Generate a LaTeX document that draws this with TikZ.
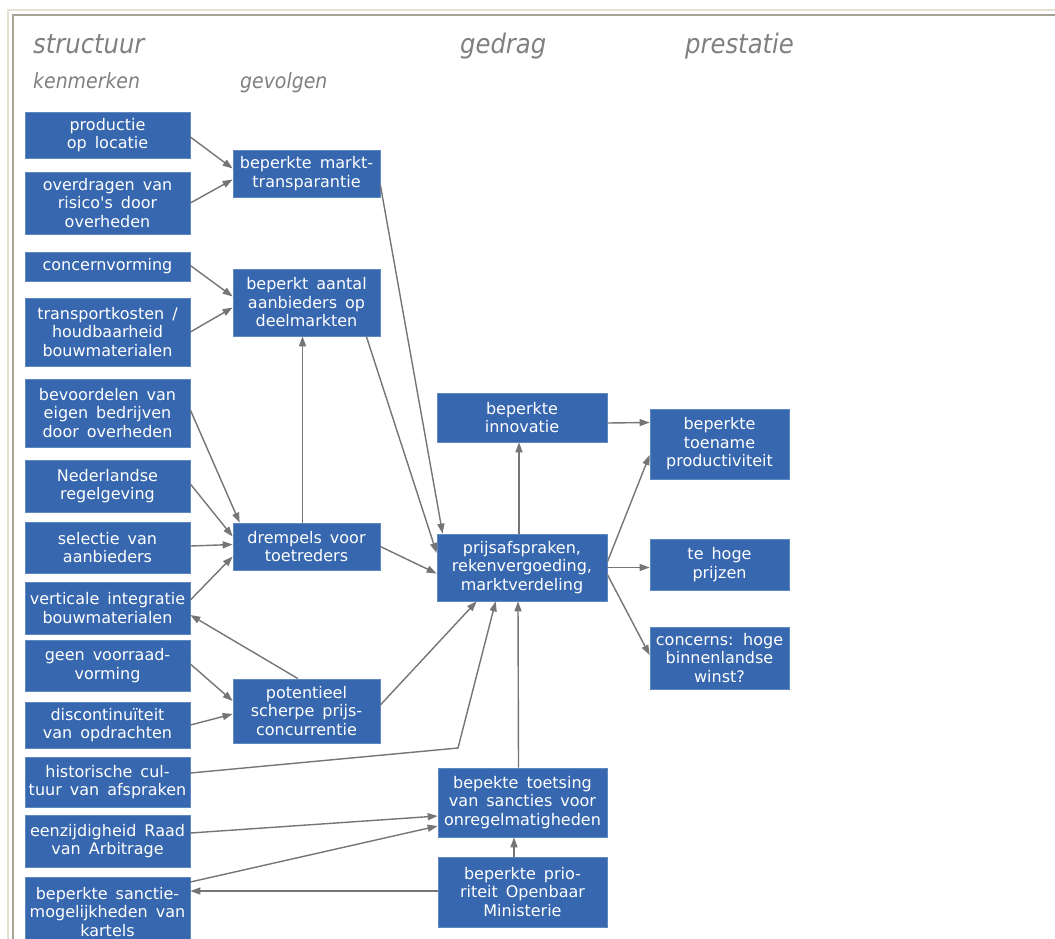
\documentclass[tikz,border=0pt]{standalone}
\usepackage{fontspec}
\setmainfont{DejaVu Sans}
\newfontfamily\boxfont{DejaVu Sans}
\newfontfamily\headfont{DejaVu Sans Condensed}
\usetikzlibrary{arrows.meta}
\definecolor{boxblue}{HTML}{3767AE}
\definecolor{boxedge}{HTML}{5F87C2}
\definecolor{arrgray}{HTML}{757575}
\definecolor{headgray}{HTML}{808080}
\definecolor{frameout}{HTML}{E6E1D2}
\definecolor{framein}{HTML}{A9A393}
\newcommand\boxsetup{\boxfont\fontsize{16}{18.5}\selectfont\spaceskip=0.5em plus 0.1em\relax}
\newcommand\bx[6]{%
  \pgfmathsetmacro\bxw{#4-#2}\pgfmathsetmacro\bxh{#5-#3}%
  \pgfmathsetmacro\bxx{(#2+#4)/2}\pgfmathsetmacro\bxy{(#3+#5)/2}%
  \node[box, minimum width=\bxw pt, minimum height=\bxh pt] (#1) at (\bxx,\bxy) {#6};}
\begin{document}
\begin{tikzpicture}[x=1pt,y=-1pt,
  box/.style={fill=boxblue, draw=boxedge, line width=0.7pt, text=white, align=center, inner sep=0pt,
    font={\boxsetup}},
  arr/.style={draw=arrgray, line width=1.4pt, -{Triangle[length=10pt,width=7pt]}},
  head/.style={anchor=base west, text=headgray, inner sep=0pt, font={\headfont\itshape\fontsize{27}{30}\selectfont}},
  subhead/.style={anchor=base west, text=headgray, inner sep=0pt, font={\headfont\itshape\fontsize{21}{24}\selectfont}}]
\useasboundingbox (0,0) rectangle (1055,938);
\fill[white] (0,0) rectangle (1055,938);
\draw[frameout, line width=2pt] (8,940) -- (8,10) -- (1056,10);
\draw[framein, line width=1.3pt] (13,940) -- (13,15) -- (1056,15);

% headers
\node[head] (hstruct) at (33,53) {structuur};
\node[head] (hgedrag) at (460,53) {gedrag};
\node[head] (hprest) at (685,53) {prestatie};
\node[subhead] (hkenm) at (33,88) {kenmerken};
\node[subhead] (hgevol) at (240,88) {gevolgen};

% column 1
\bx{prod}{25}{112}{190}{158}{productie\\op locatie}
\bx{overd}{25}{172}{190}{234}{overdragen van\\risico's door\\overheden}
\bx{concern}{25}{252}{190}{281}{concernvorming}
\bx{transp}{25}{298}{190}{366}{transportkosten /\\houdbaarheid\\bouwmaterialen}
\bx{bevoord}{25}{379}{190}{447}{bevoordelen van\\eigen bedrijven\\door overheden}
\bx{neder}{25}{460}{190}{512}{Nederlandse\\regelgeving}
\bx{select}{25}{522}{190}{573}{selectie van\\aanbieders}
\bx{vert}{25}{582}{190}{634}{verticale integratie\\bouwmaterialen}
\bx{geen}{25}{640}{190}{691}{geen voorraad-\\vorming}
\bx{disc}{25}{702}{190}{748}{discontinuïteit\\van opdrachten}
\bx{hist}{25}{757}{190}{807}{historische cul-\\tuur van afspraken}
\bx{eenz}{25}{815}{190}{867}{eenzijdigheid Raad\\van Arbitrage}
\bx{sanc}{25}{877}{190}{947}{beperkte sanctie-\\mogelijkheden van\\kartels}

% column 2
\bx{markt}{233}{150}{380}{197}{beperkte markt-\\transparantie}
\bx{aantal}{233}{269}{380}{336}{beperkt aantal\\aanbieders op\\deelmarkten}
\bx{drempel}{233}{523}{380}{570}{drempels voor\\toetreders}
\bx{pot}{233}{679}{380}{743}{potentieel\\scherpe prijs-\\concurrentie}

% column 3
\bx{innov}{437}{393}{607}{442}{beperkte\\innovatie}
\bx{prijs}{437}{534}{607}{601}{prijsafspraken,\\rekenvergoeding,\\marktverdeling}
\bx{toets}{438}{768}{607}{837}{bepekte toetsing\\van sancties voor\\onregelmatigheden}
\bx{prio}{438}{857}{607}{927}{beperkte prio-\\riteit Openbaar\\Ministerie}

% column 4
\bx{toename}{650}{409}{789}{479}{beperkte\\toename\\productiviteit}
\bx{tehoog}{650}{539}{789}{590}{te hoge\\prijzen}
\bx{concerns}{650}{627}{789}{689}{concerns: hoge\\binnenlandse\\winst?}

\coordinate (hbend) at (458,748);

% connectors
\draw[arr] ([yshift=-2pt]prod.east) -- ([yshift=5pt]markt.west);
\draw[arr] (overd.east) -- ([yshift=-6pt]markt.west);
\draw[arr] ([yshift=1pt]concern.east) -- ([yshift=6pt]aantal.west);
\draw[arr] (transp.east) -- ([yshift=-5pt]aantal.west);
\draw[arr] ([yshift=-11.5pt]markt.east) -- ([xshift=6pt]prijs.north west);
\draw[arr] ([xshift=-14pt]aantal.south east) -- ([yshift=14.5pt]prijs.west);
\draw[arr] ([xshift=-4pt]drempel.north) -- ([xshift=-4pt]aantal.south);
\draw[arr] ([yshift=3pt]bevoord.east) -- ([xshift=7pt]drempel.north west);
\draw[arr] ([yshift=2pt]neder.east) -- ([yshift=10pt]drempel.west);
\draw[arr] ([yshift=1.5pt]select.east) -- ([yshift=2pt]drempel.west);
\draw[arr] ([yshift=8pt]vert.east) -- ([yshift=-10pt]drempel.west);
\draw[arr] ([xshift=-8.5pt]pot.north) -- ([yshift=-7pt]vert.east);
\draw[arr] ([yshift=1.5pt]geen.east) -- ([yshift=10pt]pot.west);
\draw[arr] (disc.east) -- ([yshift=-3pt]pot.west);
\draw[arr] (drempel.east) -- ([yshift=-6pt]prijs.west);
\draw[arr] ([yshift=6pt]pot.east) -- ([xshift=40pt]prijs.south west);
\draw[arr] ([yshift=9pt]hist.east) -- (hbend) -- ([xshift=59pt]prijs.south west);
\draw[arr] ([xshift=-4pt]toets.north) -- ([xshift=-4pt]prijs.south);
\draw[arr] ([xshift=-3pt]prijs.north) -- ([xshift=-3pt]innov.south);
\draw[arr] ([yshift=-5.5pt]innov.east) -- ([yshift=21.5pt]toename.west);
\draw[arr] ([yshift=5.5pt]prijs.east) -- ([yshift=-11pt]toename.west);
\draw[arr] (prijs.east) -- ([yshift=-3pt]tehoog.west);
\draw[arr] ([yshift=-7pt]prijs.east) -- ([yshift=3pt]concerns.west);
\draw[arr] ([xshift=-8.5pt]prio.north) -- ([xshift=-8.5pt]toets.south);
\draw[arr] ([yshift=8pt]eenz.east) -- ([yshift=-13.5pt]toets.west);
\draw[arr] ([yshift=30pt]sanc.east) -- ([yshift=-23.5pt]toets.west);
\draw[arr] ([yshift=1pt]prio.west) -- ([yshift=1pt]prio.west -| sanc.east);
\end{tikzpicture}
\end{document}
